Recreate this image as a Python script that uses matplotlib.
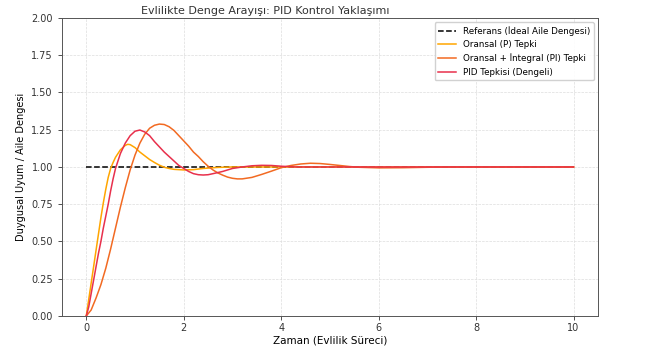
import matplotlib
matplotlib.use("Agg")
import matplotlib.pyplot as plt

# time points and responses
t_ref = [0, 10]
y_ref = [1.0, 1.0]

t_p = [0, 0.05, 0.1, 0.15, 0.2, 0.25, 0.3, 0.35, 0.4, 0.45, 0.5, 0.55, 0.6, 0.7,
       0.8, 0.85, 0.9, 1.0, 1.1, 1.2, 1.3, 1.4, 1.5, 1.6, 1.7, 1.8, 2.0, 2.2,
       2.4, 2.7, 3.0, 3.5, 4, 5, 6, 7, 8, 9, 10]
y_p = [0, 0.11, 0.22, 0.33, 0.44, 0.55, 0.66, 0.76, 0.85, 0.93, 0.99, 1.03, 1.065, 1.115,
       1.145, 1.152, 1.15, 1.13, 1.10, 1.075, 1.05, 1.03, 1.012, 0.998, 0.99, 0.984, 0.98, 0.982,
       0.99, 0.997, 1.0, 1.0, 1.0, 1.0, 1.0, 1.0, 1.0, 1.0, 1.0]

t_pi = [0, 0.1, 0.2, 0.3, 0.4, 0.5, 0.6, 0.7, 0.8, 0.9, 1.0, 1.1, 1.2, 1.3, 1.4,
        1.5, 1.6, 1.7, 1.8, 1.9, 2.0, 2.1, 2.2, 2.3, 2.4, 2.5, 2.6, 2.7, 2.8,
        2.9, 3.0, 3.1, 3.2, 3.4, 3.6, 3.8, 4.0, 4.2, 4.4, 4.6, 4.8, 5.0, 5.2,
        5.4, 5.6, 6.0, 6.5, 7.0, 7.5, 8, 9, 10]
y_pi = [0, 0.04, 0.12, 0.21, 0.32, 0.45, 0.59, 0.73, 0.86, 0.98, 1.08, 1.16, 1.22, 1.26, 1.28,
        1.288, 1.285, 1.27, 1.245, 1.21, 1.175, 1.14, 1.10, 1.07, 1.035, 1.005, 0.98, 0.96, 0.945,
        0.932, 0.924, 0.92, 0.92, 0.93, 0.95, 0.972, 0.995, 1.01, 1.02, 1.025, 1.023, 1.017, 1.01,
        1.003, 0.998, 0.994, 0.995, 0.998, 1.0, 1.0, 1.0, 1.0]

t_pid = [0, 0.05, 0.1, 0.15, 0.2, 0.25, 0.3, 0.35, 0.4, 0.45, 0.5, 0.55, 0.6, 0.7,
         0.8, 0.9, 1.0, 1.1, 1.2, 1.3, 1.4, 1.5, 1.6, 1.7, 1.8, 1.9, 2.0, 2.1,
         2.2, 2.3, 2.4, 2.5, 2.6, 2.8, 3.0, 3.2, 3.4, 3.6, 3.8, 4.0, 4.3, 5, 6,
         7, 8, 9, 10]
y_pid = [0, 0.06, 0.15, 0.24, 0.33, 0.42, 0.5, 0.59, 0.67, 0.75, 0.84, 0.92, 0.99, 1.09,
         1.16, 1.21, 1.24, 1.248, 1.235, 1.21, 1.17, 1.135, 1.10, 1.07, 1.04, 1.01, 0.99, 0.97,
         0.955, 0.948, 0.946, 0.948, 0.955, 0.97, 0.99, 1.0, 1.008, 1.011, 1.01, 1.005, 1.0, 1.0, 1.0,
         1.0, 1.0, 1.0, 1.0]

labels = ["Referans (İdeal Aile Dengesi)", "Oransal (P) Tepki",
          "Oransal + İntegral (PI) Tepki", "PID Tepkisi (Dengeli)"]

fig = plt.figure(figsize=(6.45, 3.53), dpi=100)
ax = fig.add_axes([0.096, 0.105, 0.831, 0.844])

ax.plot(t_ref, y_ref, "k--", lw=1.1, label=labels[0])
ax.plot(t_p, y_p, color="#ffa500", lw=1.1, label=labels[1])
ax.plot(t_pi, y_pi, color="#f26a22", lw=1.1, label=labels[2])
ax.plot(t_pid, y_pid, color="#e8304c", lw=1.1, label=labels[3])

ax.set_xlim(-0.5, 10.5)
ax.set_ylim(0, 2.0)
ax.set_yticks([0, 0.25, 0.5, 0.75, 1.0, 1.25, 1.5, 1.75, 2.0])
ax.set_yticklabels(["0.00", "0.25", "0.50", "0.75", "1.00", "1.25", "1.50", "1.75", "2.00"])
ax.set_xticks([0, 2, 4, 6, 8, 10])
ax.tick_params(labelsize=7, length=3, width=0.6, colors="#333333")
ax.tick_params(axis="x", pad=2)
ax.grid(True, ls="--", lw=0.5, color="#dddddd")
for s in ax.spines.values():
    s.set_color("#555555")
    s.set_linewidth(0.7)

ax.set_title("Evlilikte Denge Arayışı: PID Kontrol Yaklaşımı", fontsize=8, color="#333333",
             x=0.38, pad=3)
ax.xaxis.set_label_coords(0.522, -0.065)
ax.set_xlabel("Zaman (Evlilik Süreci)", fontsize=7.5)
ax.set_ylabel("Duygusal Uyum / Aile Dengesi", fontsize=7, labelpad=4)
ax.legend(loc="upper right", fontsize=6.3, frameon=True, framealpha=0.9)

fig.savefig("out.png", dpi=100)
